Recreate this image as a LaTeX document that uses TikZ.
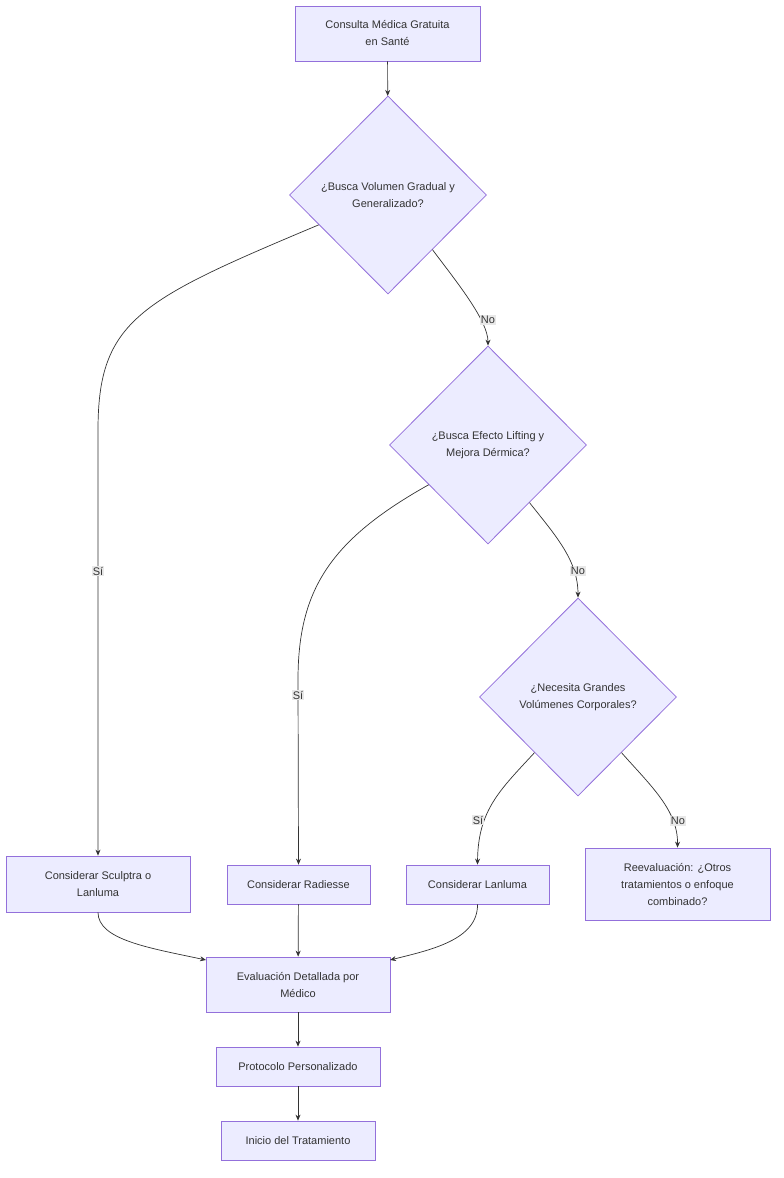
\documentclass[tikz,border=0pt]{standalone}
\usepackage{fontspec}
\setmainfont{Liberation Sans}
\usetikzlibrary{shapes.geometric,calc,arrows.meta}
\definecolor{nf}{HTML}{ECECFF}
\definecolor{ns}{HTML}{9370DB}
\definecolor{tx}{HTML}{333333}
\definecolor{lb}{HTML}{E8E8E8}
\begin{document}
\begin{tikzpicture}[x=1pt,y=-1pt,
  every node/.style={font=\fontsize{11}{17}\selectfont,text=tx},
  box/.style={draw=ns,fill=nf,line width=0.8pt,align=center,inner sep=0pt},
  dia/.style={draw=ns,fill=nf,line width=0.8pt,diamond,inner sep=0pt,align=center,minimum width=197pt,minimum height=198pt},
  ed/.style={draw=tx,line width=0.7pt,-{Stealth[length=6pt,width=5pt]}},
  lab/.style={fill=lb,inner sep=1pt,font=\fontsize{11}{13}\selectfont}]
\useasboundingbox (0,0) rectangle (784,1178);
\node[box,minimum width=185pt,minimum height=55pt] (A) at (387.5,33.5) {Consulta Médica Gratuita\\en Santé};
\node[dia] (D1) at (388,195) {¿Busca Volumen Gradual y\\Generalizado?};
\node[dia] (D2) at (488,445) {¿Busca Efecto Lifting y\\Mejora Dérmica?};
\node[dia] (D3) at (578,697) {¿Necesita Grandes\\Volúmenes Corporales?};
\node[box,minimum width=184pt,minimum height=56pt] (S1) at (98,884) {Considerar Sculptra o\\Lanluma};
\node[box,minimum width=143pt,minimum height=39pt] (R) at (298.5,884.5) {Considerar Radiesse};
\node[box,minimum width=143pt,minimum height=39pt] (L) at (477.5,884.5) {Considerar Lanluma};
\node[box,minimum width=185pt,minimum height=72pt] (Re) at (677.5,884) {Reevaluación: ¿Otros\\tratamientos o enfoque\\combinado?};
\node[box,minimum width=184pt,minimum height=55pt] (E) at (298,984.5) {Evaluación Detallada por\\Médico};
\node[box,minimum width=164pt,minimum height=39pt] (P) at (298,1066.5) {Protocolo Personalizado};
\node[box,minimum width=154pt,minimum height=39pt] (I) at (298,1140.5) {Inicio del Tratamiento};
\coordinate (a1) at ($(D1.west)!0.3!(D1.south)$);
\coordinate (a2) at ($(D1.east)!0.55!(D1.south)$);
\coordinate (b1) at ($(D2.west)!0.4!(D2.south)$);
\coordinate (b2) at ($(D2.east)!0.58!(D2.south)$);
\coordinate (c1) at ($(D3.west)!0.56!(D3.south)$);
\coordinate (c2) at ($(D3.east)!0.56!(D3.south)$);
\draw[ed] (A) -- (D1);
\draw[ed] (a1) .. controls (140,300) and (98,320) .. (98,430) -- (S1.north);
\node[lab] at (98,571) {Sí};
\draw[ed] (a2) .. controls (455,280) and (488,320) .. (D2.north);
\node[lab] at (488,320) {No};
\draw[ed] (b1) .. controls (330,540) and (298,590) .. (298,680) -- (R.north);
\node[lab] at (298,695) {Sí};
\draw[ed] (b2) .. controls (555,535) and (578,560) .. (D3.north);
\node[lab] at (578,571) {No};
\draw[ed] (c1) .. controls (500,790) and (478,810) .. (L.north);
\node[lab] at (478,820) {Sí};
\draw[ed] (c2) .. controls (650,785) and (678,810) .. (Re.north);
\node[lab] at (678,821) {No};
\draw[ed] (S1.south) .. controls (98,940) and (150,948) .. (206,960);
\draw[ed] (R) -- (E);
\draw[ed] (L.south) .. controls (478,940) and (430,950) .. (390,960);
\draw[ed] (E) -- (P);
\draw[ed] (P) -- (I);
\end{tikzpicture}
\end{document}
